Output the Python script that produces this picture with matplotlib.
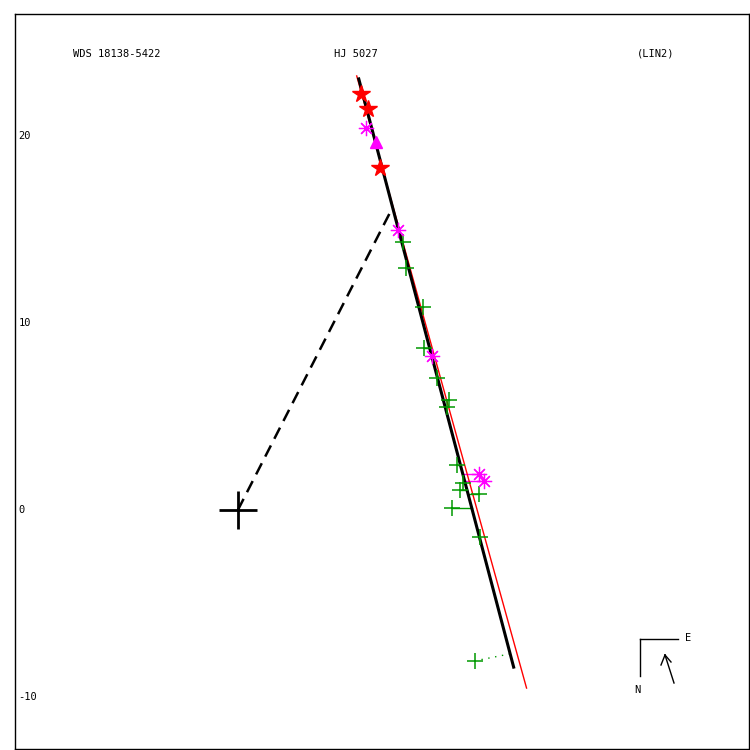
import numpy as np
import matplotlib
matplotlib.use("Agg")
import matplotlib.pyplot as plt
from matplotlib.lines import Line2D

# positions in arcsec relative to the primary
star_x = [6.58, 6.95, 7.59]
star_y = [22.25, 21.44, 18.29]

tri_x = [7.38]
tri_y = [19.68]

ast_x = [6.84, 8.56, 10.37, 12.89, 13.16]
ast_y = [20.43, 14.97, 8.24, 1.93, 1.55]

plus_x = [8.82, 8.98, 9.89, 9.95, 10.64, 11.28, 11.18, 11.71, 12.03, 11.87, 12.89, 11.44, 12.94]
plus_y = [14.33, 12.94, 10.86, 8.66, 7.06, 5.88, 5.51, 2.41, 1.44, 1.07, 0.86, 0.11, -1.44]

# rejected point, dotted residual
rej_x = [12.67]
rej_y = [-8.07]

# linear fits
fit_x = [6.47, 14.76]
fit_y = [23.05, -8.40]
fit2_x = [6.36, 15.45]
fit2_y = [23.21, -9.52]

# closest approach
ca_x = [0.0, 8.13]
ca_y = [0.0, 15.88]

yticks = [-10, 0, 10, 20]

fig = plt.figure(figsize=(7.5, 7.5), dpi=100)
ax = fig.add_axes([0.02, 0.0013, 0.978, 0.98])
ax.set_xlim(-11.93, 27.33)
ax.set_ylim(-12.78, 26.52)
ax.set_xticks([])
ax.set_yticks([])
for s in ax.spines.values():
    s.set_linewidth(1)

mono = "DejaVu Sans Mono"
for t in yticks:
    ax.text(-11.75, t, str(t), fontsize=7.5, family=mono, va="center", ha="left")


def on_fit(y):
    return fit_x[0] + (y - fit_y[0]) * (fit_x[1] - fit_x[0]) / (fit_y[1] - fit_y[0])


# O-C residuals
for x, y in zip(plus_x, plus_y):
    ax.plot([x, on_fit(y)], [y, y], color="#009900", lw=1)
for x, y in zip(ast_x, ast_y):
    ax.plot([x, on_fit(y)], [y, y], color="magenta", lw=1)
for x, y in zip(rej_x, rej_y):
    ax.plot([x, on_fit(y)], [y, y + 0.4], color="#009900", lw=1, ls=(0, (1, 4)))

ax.plot(fit2_x, fit2_y, color="red", lw=1)
ax.plot(fit_x, fit_y, color="black", lw=2.2)
ax.plot(ca_x, ca_y, color="black", lw=1.8, ls=(0, (5, 3)))

ax.plot(plus_x, plus_y, ls="none", marker="+", ms=11, mew=1.1, color="#009900")
ax.plot(rej_x, rej_y, ls="none", marker="+", ms=11, mew=1.1, color="#009900")
ax.plot(ast_x, ast_y, ls="none", marker=(8, 2, 0), ms=11, mew=0.9, color="magenta")
ax.plot(star_x, star_y, ls="none", marker="*", ms=13, color="red")
ax.plot(tri_x, tri_y, ls="none", marker="^", ms=9, color="magenta")
ax.plot([0], [0], ls="none", marker="+", ms=27, mew=2, color="black")

# header
fig.text(117 / 750, 1 - 54 / 750, "WDS 18138-5422", fontsize=7.5, family=mono, ha="center", va="center")
fig.text(356 / 750, 1 - 54 / 750, "HJ 5027", fontsize=7.5, family=mono, ha="center", va="center")
fig.text(656 / 750, 1 - 54 / 750, "(LIN2)", fontsize=7.5, family=mono, ha="center", va="center")

# compass
def fp(px, py):
    return px / 750, 1 - py / 750

for a, b in [((640, 639), (640, 676)), ((640, 639), (678, 639)), ((674, 683), (665, 655))]:
    (x0, y0), (x1, y1) = fp(*a), fp(*b)
    fig.add_artist(Line2D([x0, x1], [y0, y1], color="black", lw=1))
for a, b in [((665, 655), (661, 665)), ((665, 655), (671, 662))]:
    (x0, y0), (x1, y1) = fp(*a), fp(*b)
    fig.add_artist(Line2D([x0, x1], [y0, y1], color="black", lw=1))
fig.text(*fp(688, 638), "E", fontsize=7.5, family=mono, ha="center", va="center")
fig.text(*fp(637, 690), "N", fontsize=7.5, family=mono, ha="center", va="center")

fig.savefig("out.png", dpi=100)
